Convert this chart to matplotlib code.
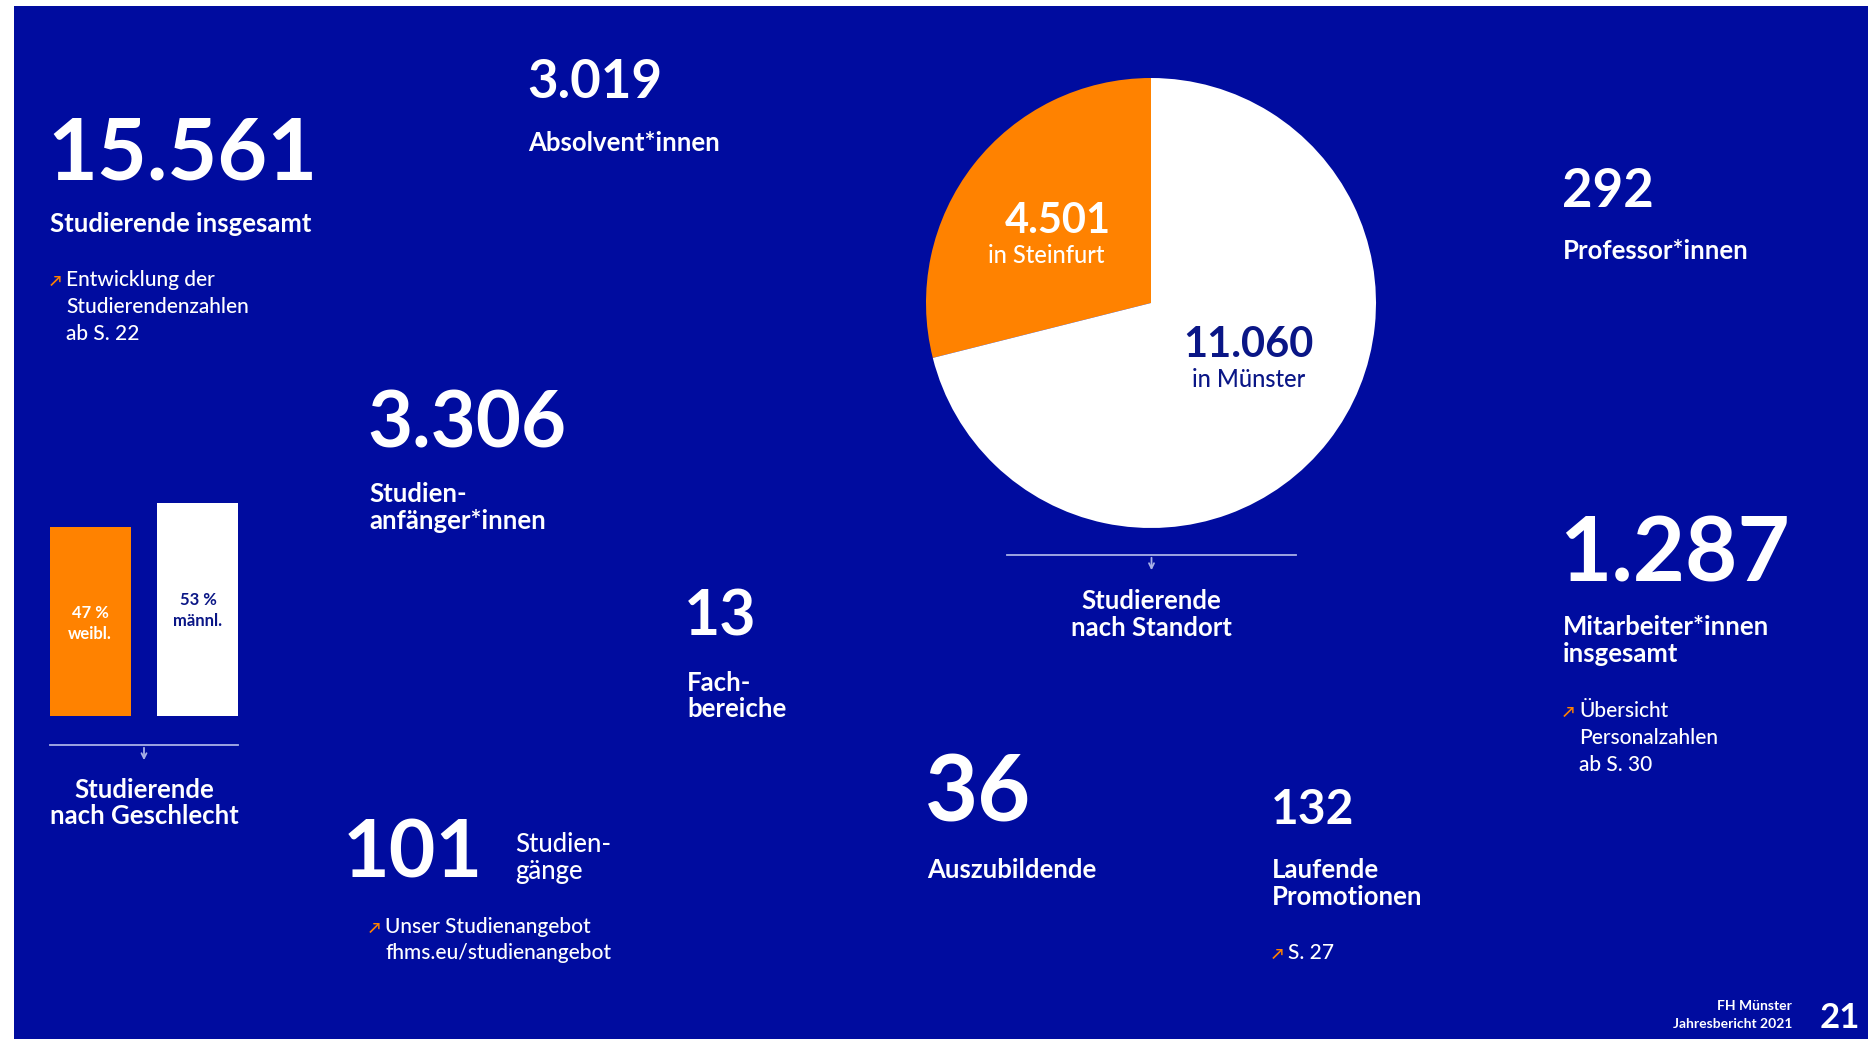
import matplotlib
matplotlib.use('Agg')
from matplotlib import pyplot as plt
from matplotlib.patches import Rectangle

plt.rcParams['font.family'] = ['Lato', 'DejaVu Sans']

W, H = 1868, 1039
blue = '#000C9F'
orange = '#FF8200'
navy = '#0A1686'
line_col = '#A9B1E6'

# data
gender_labels = ['47 %\nweibl.', '53 %\nmännl.']
gender_share = [47, 53]
gender_colors = [orange, 'white']
site_values = [4501, 11060]
site_labels = ['4.501', '11.060']
site_names = ['in Steinfurt', 'in Münster']
site_colors = [orange, 'white']

fig = plt.figure(figsize=(W / 100, H / 100), dpi=100)
fig.patch.set_facecolor('white')

# background panel
bg = fig.add_axes([0, 0, 1, 1], zorder=0)
bg.set_xlim(0, W)
bg.set_ylim(H, 0)
bg.axis('off')
bg.add_patch(Rectangle((14, 6), W - 14, H - 6, color=blue, lw=0))


def frac(x0, y0, x1, y1):
    # pixel box (top-left origin) -> figure fraction
    return [x0 / W, 1 - y1 / H, (x1 - x0) / W, (y1 - y0) / H]


# bars: Studierende nach Geschlecht
bax = fig.add_axes(frac(50, 503, 238, 716), zorder=1)
bax.bar([0, 1], gender_share, width=0.75, color=gender_colors)
bax.set_xlim(-0.375, 1.375)
bax.set_ylim(0, max(gender_share))
bax.axis('off')

# pie: Studierende nach Standort
pax = fig.add_axes(frac(926, 78, 1376, 528), zorder=1)
pax.pie(site_values, colors=site_colors, startangle=90, counterclock=True,
        radius=1, wedgeprops=dict(linewidth=0))
pax.set_xlim(-1, 1)
pax.set_ylim(-1, 1)
pax.set_aspect('equal')
pax.axis('off')

# text overlay in pixel coordinates
ax = fig.add_axes([0, 0, 1, 1], zorder=2)
ax.set_xlim(0, W)
ax.set_ylim(H, 0)
ax.axis('off')
ax.patch.set_alpha(0)


def t(x, y, s, size, weight='bold', color='white', ha='left'):
    ax.text(x, y, s, fontsize=size, fontweight=weight, color=color,
            ha=ha, va='baseline')


def arrow_note(x, y0, lines, dy=27):
    t(x, y0, '↗', 11, color=orange)
    for k, s in enumerate(lines):
        t(x + 16, y0 + k * dy, s, 15, weight='medium')


def bracket(x0, x1, y):
    ax.plot([x0, x1], [y, y], color=line_col, lw=1.3)
    xm = (x0 + x1) / 2
    ax.annotate('', xy=(xm, y + 18), xytext=(xm, y),
                arrowprops=dict(arrowstyle='->', color=line_col, lw=1.3,
                                mutation_scale=9))


# big numbers + labels
lab = 18.5
t(47, 179, '15.561', 62)
t(50, 232, 'Studierende insgesamt', lab)
arrow_note(50, 286, ['Entwicklung der', 'Studierendenzahlen', 'ab S. 22'])

t(527, 98, '3.019', 38)
t(528, 151, 'Absolvent*innen', lab)

t(367, 448, '3.306', 56)
t(369, 502, 'Studien-', lab)
t(369, 529, 'anfänger*innen', lab)

t(343, 878, '101', 58)
t(515, 852, 'Studien-', lab, weight='medium')
t(515, 879, 'gänge', lab, weight='medium')
arrow_note(369, 933, ['Unser Studienangebot', 'fhms.eu/studienangebot'], dy=26)

t(684, 635, '13', 45)
t(687, 691, 'Fach-', lab)
t(687, 717, 'bereiche', lab)

t(925, 822, '36', 66)
t(927, 878, 'Auszubildende', lab)

t(1271, 824, '132', 34.5)
t(1272, 878, 'Laufende', lab)
t(1272, 905, 'Promotionen', lab)
arrow_note(1272, 959, ['S. 27'])

t(1562, 207, '292', 38)
t(1563, 259, 'Professor*innen', lab)

t(1559, 581, '1.287', 65)
t(1563, 635, 'Mitarbeiter*innen', lab)
t(1563, 662, 'insgesamt', lab)
arrow_note(1563, 717, ['Übersicht', 'Personalzahlen', 'ab S. 30'])

# bar labels
bar_x = [90, 198]
bar_y = [618, 605]
for i, s in enumerate(gender_labels):
    c = 'white' if gender_colors[i] == orange else navy
    top, bot = s.split('\n')
    t(bar_x[i], bar_y[i], top, 12, color=c, ha='center')
    t(bar_x[i], bar_y[i] + 21, bot, 12, color=c, ha='center')
bracket(50, 238, 745)
t(144, 798, 'Studierende', lab, ha='center')
t(144, 824, 'nach Geschlecht', lab, ha='center')

# pie labels
num_x = [1058, 1248]
name_x = [1046, 1249]
pie_lab_y = [233, 357]
for i in range(len(site_values)):
    c = 'white' if site_colors[i] == orange else navy
    t(num_x[i], pie_lab_y[i], site_labels[i], 30, color=c, ha='center')
    t(name_x[i], pie_lab_y[i] + 30, site_names[i], 17, weight='medium',
      color=c, ha='center')
bracket(1007, 1296, 555)
t(1151, 609, 'Studierende', lab, ha='center')
t(1151, 636, 'nach Standort', lab, ha='center')

# footer
t(1792, 1010, 'FH Münster', 10, ha='right')
t(1792, 1028, 'Jahresbericht 2021', 10, ha='right')
t(1820, 1028, '21', 25)

fig.savefig('out.png', dpi=100, facecolor=fig.get_facecolor())
